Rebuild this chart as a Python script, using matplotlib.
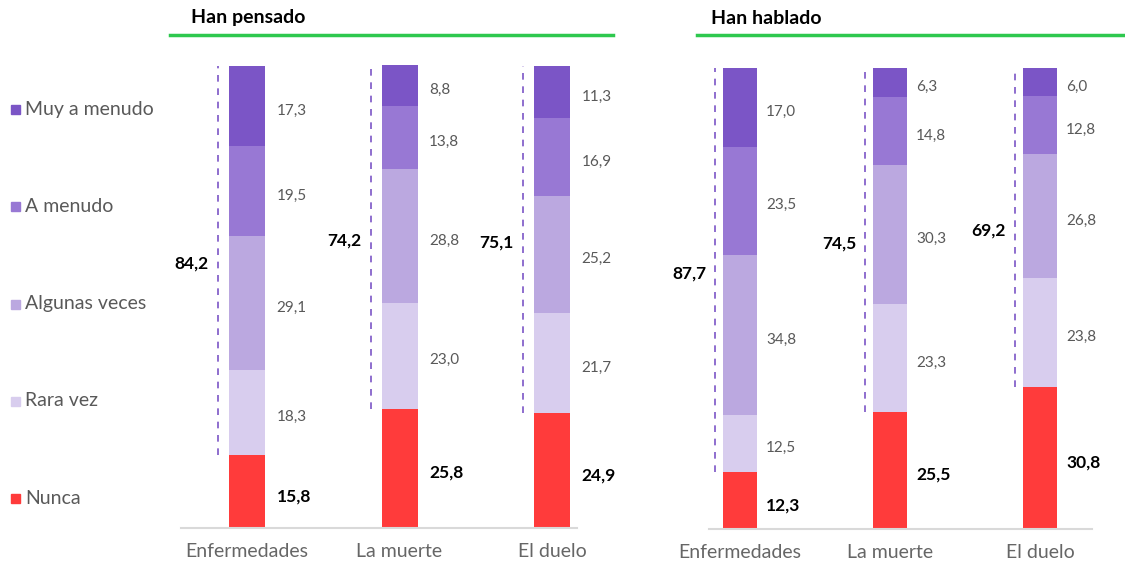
import matplotlib
matplotlib.use("Agg")
import matplotlib.pyplot as plt
from matplotlib.patches import Rectangle

plt.rcParams['font.family'] = ['Lato', 'DejaVu Sans']

# data
categories = ['Enfermedades', 'La muerte', 'El duelo']
levels = ['Nunca', 'Rara vez', 'Algunas veces', 'A menudo', 'Muy a menudo']
colors = ['#ff3b3b', '#d8cdee', '#bba8e0', '#9878d4', '#7b55c6']

pensado = {
    'Nunca': [15.8, 25.8, 24.9],
    'Rara vez': [18.3, 23.0, 21.7],
    'Algunas veces': [29.1, 28.8, 25.2],
    'A menudo': [19.5, 13.8, 16.9],
    'Muy a menudo': [17.3, 8.8, 11.3],
}
pensado_total = [84.2, 74.2, 75.1]

hablado = {
    'Nunca': [12.3, 25.5, 30.8],
    'Rara vez': [12.5, 23.3, 23.8],
    'Algunas veces': [34.8, 30.3, 26.8],
    'A menudo': [23.5, 14.8, 12.8],
    'Muy a menudo': [17.0, 6.3, 6.0],
}
hablado_total = [87.7, 74.5, 69.2]

W, H = 1125, 565
fig = plt.figure(figsize=(W / 100, H / 100), dpi=100)


def fx(px):
    return px / W


def fy(py):
    return 1 - py / H


def panel(rect, xlim, width, data, totals, title, title_x, line_x, dash_off, lab_off):
    ax = fig.add_axes(rect)
    x = list(range(len(categories)))
    bottom = [0.0] * len(categories)
    for lev, col in zip(levels, colors):
        vals = data[lev]
        ax.bar(x, vals, width, bottom=bottom, color=col, linewidth=0)
        for i, v in enumerate(vals):
            yc = bottom[i] + v / 2 - 1
            lab = f'{v:.1f}'.replace('.', ',')
            if lev == 'Nunca':
                ax.text(x[i] + width / 2 + lab_off, yc, lab, ha='left', va='center',
                        fontsize=12.5, fontweight='bold', color='black')
            else:
                ax.text(x[i] + width / 2 + lab_off, yc, lab, ha='left', va='center',
                        fontsize=11, color='#595959')
        bottom = [b + v for b, v in zip(bottom, vals)]
    # dashed bracket for "alguna vez"
    for i in x:
        nunca = data['Nunca'][i]
        xd = x[i] - width / 2 - dash_off
        ax.plot([xd, xd], [nunca, bottom[i]], color='#7b55c6', lw=1.2,
                linestyle=(0, (4, 4)))
        ax.text(xd - 0.06, (nunca + bottom[i]) / 2 - 0.7, f'{totals[i]:.1f}'.replace('.', ','),
                ha='right', va='center', fontsize=12.5, fontweight='bold', color='black')
    ax.set_xlim(*xlim)
    ax.set_ylim(0, 100.2)
    ax.set_xticks(x)
    ax.set_xticklabels(categories, fontsize=14, color='#666666')
    ax.tick_params(axis='x', length=0, pad=11)
    ax.set_yticks([])
    for s in ['top', 'right', 'left']:
        ax.spines[s].set_visible(False)
    ax.spines['bottom'].set_color('#d9d9d9')
    ax.spines['bottom'].set_linewidth(1.5)
    fig.text(fx(title_x), fy(18), title, fontsize=14, fontweight='bold',
             ha='left', va='center', color='black')
    fig.add_artist(plt.Line2D([fx(line_x[0]), fx(line_x[1])], [fy(35), fy(35)],
                              color='#2ec84e', lw=2.5))
    return ax


panel([fx(181), fy(528), fx(396), fy(65) - fy(528)], (-0.433, 2.164), 0.236,
      pensado, pensado_total, 'Han pensado', 191, (170, 613), 0.072, 0.075)
panel([fx(709), fy(529), fx(383), fy(68) - fy(529)], (-0.207, 2.347), 0.227,
      hablado, hablado_total, 'Han hablado', 711, (697, 1125), 0.053, 0.06)

# legend on the left
leg_y = [498, 401, 304, 206, 109]
for lev, col, py in zip(levels, colors, leg_y):
    fig.add_artist(Rectangle((fx(11), fy(py + 5)), fx(9), 9 / H, color=col,
                             transform=fig.transFigure))
    fig.text(fx(25), fy(py), lev, fontsize=14, color='#595959', ha='left', va='center')

fig.savefig('out.png', dpi=100)
